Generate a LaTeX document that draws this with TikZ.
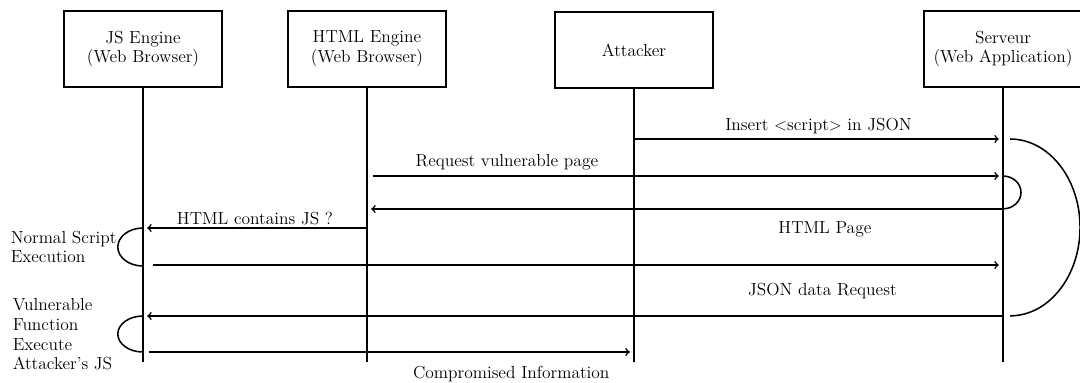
\documentclass[tikz,border=0pt]{standalone}
\usetikzlibrary{arrows}

\begin{document}
\begin{tikzpicture}[x=0.025cm,y=-0.025cm,line width=1.1pt,>=to,
  actor/.style={draw,line width=1.4pt,align=center,minimum width=3.95cm,minimum height=1.9cm,font=\fontsize{12.4}{14}\selectfont},
  msg/.style={->,shorten >=3pt},
  lbl/.style={font=\fontsize{12.4}{14}\selectfont}]
  \useasboundingbox (0,0) rectangle (1080,382);

  \node [actor] (js)   at (143,49)  {JS Engine\\(Web Browser)};
  \node [actor] (html) at (367,49)  {HTML Engine\\(Web Browser)};
  \node [actor] (att)  at (634,50)  {Attacker};
  \node [actor] (srv)  at (1003,49) {Serveur\\(Web Application)};

  \coordinate (bottom) at (0,362);
  \foreach \who in {js,html,att,srv}
    \draw (\who.south) -- (\who.south |- bottom);

  % message levels
  \coordinate (t1) at (0,139);
  \coordinate (t2) at (0,176);
  \coordinate (t3) at (0,209);
  \coordinate (t4) at (0,228);
  \coordinate (t5) at (0,265);
  \coordinate (t6) at (0,316);
  \coordinate (t7) at (0,352);

  \draw [msg] (att |- t1) -- node [above,lbl] {Insert $<$script$>$ in JSON} (srv |- t1);
  \draw [msg,shorten <=4pt] (html |- t2) -- node [above,lbl,pos=.22] {Request vulnerable page} (srv |- t2);
  \draw [msg] (srv |- t3) -- node [below,lbl,pos=.28,yshift=-5pt] {HTML Page} (html |- t3);
  \draw [msg] (html |- t4) -- node [above,lbl,inner sep=2pt] {HTML contains JS ?} (js |- t4);
  \draw [msg,shorten <=7pt] (js |- t5) -- (srv |- t5);
  \draw [msg] (srv |- t6) -- node [above,lbl,pos=.21,yshift=8pt] {JSON data Request} (js |- t6);
  \draw [msg,shorten <=4pt] (js |- t7) -- node [below,lbl,pos=.75,yshift=-6pt] {Compromised Information} (att |- t7);

  % processing loops
  \draw (srv |- t2) arc [start angle=90,end angle=-90,x radius=0.45cm,y radius=0.41cm];
  \draw ([xshift=5pt]srv |- t1) arc [start angle=90,end angle=-90,x radius=1.75cm,y radius=2.21cm];
  \draw (js |- t4) arc [start angle=90,end angle=270,x radius=0.63cm,y radius=0.475cm];
  \draw (js |- t6) arc [start angle=90,end angle=270,x radius=0.63cm,y radius=0.45cm];

  \node [lbl,align=left,anchor=north west,inner sep=0pt] (normal) at (10,230) {Normal Script\\Execution};
  \node [lbl,align=left,anchor=north west,inner sep=0pt] (vuln) at (12,298) {Vulnerable\\Function\\Execute\\Attacker's JS};
\end{tikzpicture}
\end{document}
